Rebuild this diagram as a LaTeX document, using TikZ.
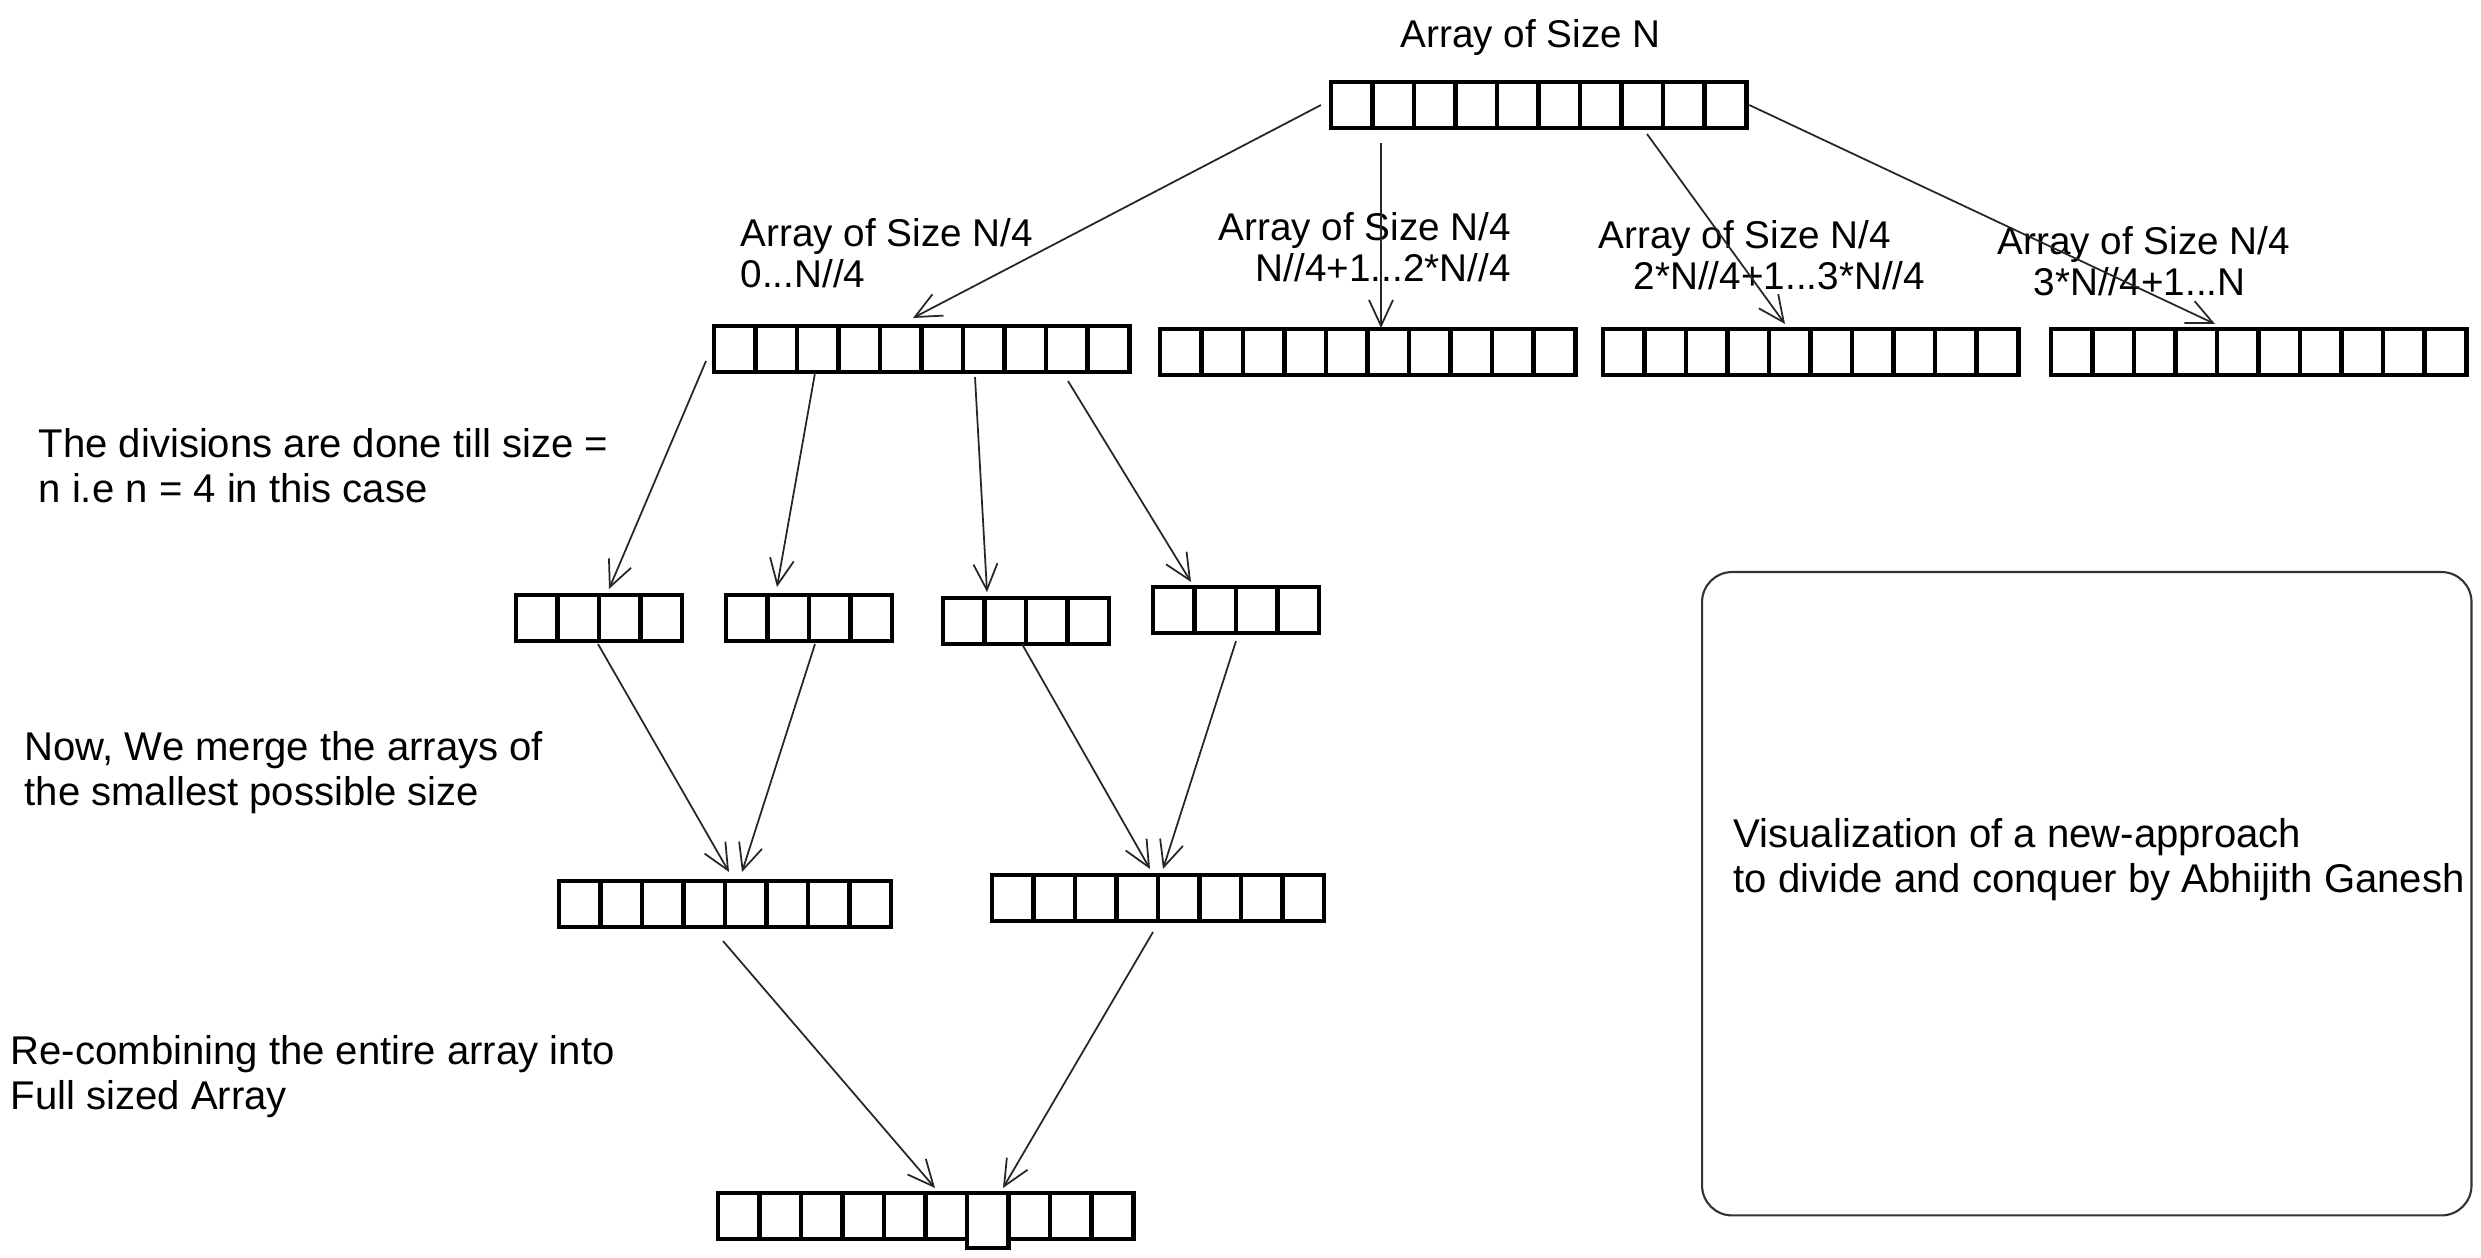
\documentclass[tikz,border=0pt]{standalone}
\usepackage{fontspec}
\setmainfont{Liberation Sans}
\usetikzlibrary{arrows.meta,calc}

% A row of square cells drawn as one named node plus its inner dividers.
% #1 name, #2 left, #3 top (in px units), #4 number of cells
\newcommand\cellarray[4]{%
  \node[arraybox, minimum width=#4*0.415cm, anchor=north west] (#1) at (#2,#3) {};
  \pgfmathtruncatemacro\celllast{#4-1}%
  \foreach \k in {1,...,\celllast}{%
    \draw[cellsep] ($(#1.north west)+(\k*41.5,0)$) -- ($(#1.south west)+(\k*41.5,0)$);}%
}

\begin{document}
\begin{tikzpicture}[x=0.01cm,y=-0.01cm,
  arraybox/.style={draw=black,line width=1.3pt,inner sep=0pt,outer sep=0pt,minimum height=0.46cm},
  cellsep/.style={draw=black,line width=1.3pt},
  linkarrow/.style={draw=black!85,line width=0.5pt,-{Straight Barb[length=2.6mm,width=2.4mm]}},
  handtext/.style={font=\fontsize{11.4}{12.7}\selectfont,inner sep=0pt,anchor=north west,align=left},
  headtext/.style={handtext,font=\fontsize{11}{11.6}\selectfont},
  framepanel/.style={draw=black!80,line width=0.6pt,rounded corners=0.3cm}
]
\useasboundingbox (0,0) rectangle (2481,1258);

% arrays
\cellarray{top}{1331}{82}{10}
\cellarray{a1}{714}{326}{10}
\cellarray{a2}{1160}{329}{10}
\cellarray{a3}{1603}{329}{10}
\cellarray{a4}{2051}{329}{10}
\cellarray{b1}{516}{595}{4}
\cellarray{b2}{726}{595}{4}
\cellarray{b3}{943}{598}{4}
\cellarray{b4}{1153}{587}{4}
\cellarray{c1}{559}{881}{8}
\cellarray{c2}{992}{875}{8}
\cellarray{d}{718}{1193}{10}
% the seventh cell of the final array sits a little lower
\draw[cellsep,fill=white] ($(d.north west)+(6*41.5,0)$) rectangle ($(d.north west)+(7*41.5,55)$);

% labels
\node[headtext] (ttop) at (1400,19) {Array of Size N};
\node[headtext] (ta1) at (740,218) {Array of Size N/4\\0...N//4};
\node[headtext] (ta2) at (1218,212) {Array of Size N/4\\\hspace*{0.37cm}N//4+1...2*N//4};
\node[headtext] (ta3) at (1598,220) {Array of Size N/4\\\hspace*{0.35cm}2*N//4+1...3*N//4};
\node[headtext] (ta4) at (1997,226) {Array of Size N/4\\\hspace*{0.36cm}3*N//4+1...N};
\node[handtext] (tdiv) at (38,428) {The divisions are done till size =\\n i.e n = 4 in this case};
\node[handtext] (tmerge) at (24,731) {Now, We merge the arrays of\\the smallest possible size};
\node[handtext] (tfull) at (10,1035) {Re-combining the entire array into\\Full sized Array};

% caption panel
\node[framepanel,minimum width=7.69cm,minimum height=6.43cm,anchor=north west,inner sep=0pt] (box) at (1701,571) {};
\node[handtext] (tcap) at (1733,818) {Visualization of a new-approach\\to divide and conquer by Abhijith Ganesh};

% first split
\draw[linkarrow] ($(top.west)+(-10,0)$) -- ($(a1.north west)+(199,-8)$);
\draw[linkarrow] ($(top.south west)+(50,15)$) -- ($(a2.north west)+(221,-1)$);
\draw[linkarrow] ($(top.south west)+(316,6)$) -- ($(a3.north west)+(182,-5)$);
\draw[linkarrow] ($(top.east)+(3,0)$) -- ($(a4.north west)+(164,-5)$);

% second split
\draw[linkarrow] ($(a1.south west)+(-8,-11)$) -- ($(b1.north west)+(93,-6)$);
\draw[linkarrow] ($(a1.south west)+(101,1)$) -- ($(b2.north west)+(51,-8)$);
\draw[linkarrow] ($(a1.south west)+(261,5)$) -- ($(b3.north west)+(44,-6)$);
\draw[linkarrow] ($(a1.south west)+(354,9)$) -- ($(b4.north west)+(38,-5)$);

% merging the smallest arrays
\draw[linkarrow] ($(b1.south west)+(82,3)$) -- ($(c1.north west)+(170,-9)$);
\draw[linkarrow] ($(b2.south west)+(89,3)$) -- ($(c1.north west)+(183,-9)$);
\draw[linkarrow] ($(b3.south west)+(79,0)$) -- ($(c2.north west)+(158,-6)$);
\draw[linkarrow] ($(b4.south west)+(83,8)$) -- ($(c2.north west)+(171,-6)$);

% recombining into the full array
\draw[linkarrow] ($(c1.south west)+(164,14)$) -- ($(d.north west)+(217,-5)$);
\draw[linkarrow] ($(c2.south west)+(161,11)$) -- ($(d.north west)+(285,-5)$);
\end{tikzpicture}
\end{document}
